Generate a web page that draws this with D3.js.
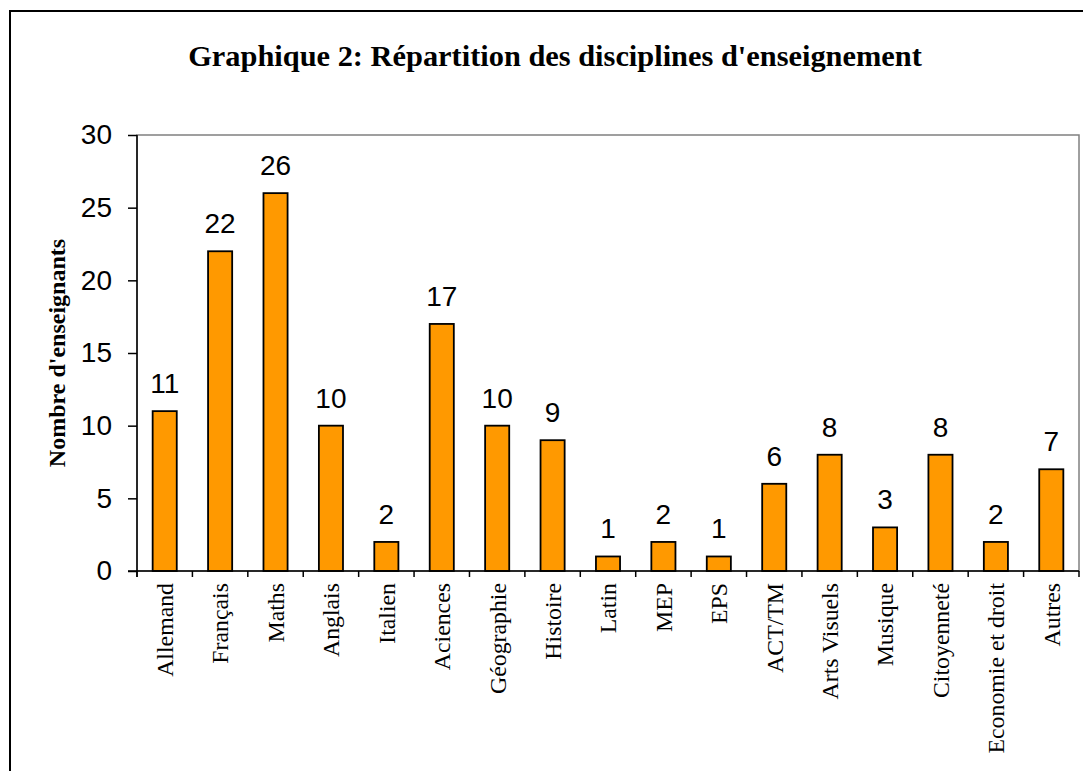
<!DOCTYPE html>
<html>
<head>
<meta charset="utf-8">
<script src="https://cdn.jsdelivr.net/npm/d3@7"></script>
<style>
body { margin: 0; background: #fff; }
</style>
</head>
<body>
<div id="chart"></div>
<script>
// disciplines et nombre d'enseignants
var disciplines = ["Allemand", "Français", "Maths", "Anglais", "Italien", "Aciences", "Géographie", "Histoire",
  "Latin", "MEP", "EPS", "ACT/TM", "Arts Visuels", "Musique", "Citoyenneté", "Economie et droit", "Autres"];
var enseignants = [11, 22, 26, 10, 2, 17, 10, 9, 1, 2, 1, 6, 8, 3, 8, 2, 7];
var yTicks = [0, 5, 10, 15, 20, 25, 30];

var W = 1083, H = 771;
var plot = {left: 137, top: 135, right: 1079, bottom: 571};

var svg = d3.select("#chart").append("svg").attr("width", W).attr("height", H);

// cadre exterieur (sort de l'image a droite et en bas)
svg.append("rect").attr("x", 10).attr("y", 11).attr("width", W + 20).attr("height", H + 20)
  .attr("fill", "none").attr("stroke", "#000").attr("stroke-width", 2);

svg.append("text").attr("x", 555).attr("y", 66).attr("text-anchor", "middle")
  .style("font-family", "'Liberation Serif', 'Times New Roman', serif").style("font-weight", "bold")
  .style("font-size", "30.4px").text("Graphique 2: Répartition des disciplines d'enseignement");

var x = d3.scaleBand().domain(disciplines).range([plot.left, plot.right]).paddingInner(0.565).paddingOuter(0.2825);
var y = d3.scaleLinear().domain([0, 30]).range([plot.bottom, plot.top]);

// bord gris de la zone de tracé
svg.append("rect").attr("x", plot.left).attr("y", plot.top)
  .attr("width", plot.right - plot.left).attr("height", plot.bottom - plot.top)
  .attr("fill", "none").attr("stroke", "#808080").attr("stroke-width", 1.5);

var data = disciplines.map(function(d, i){ return {label: d, value: enseignants[i]}; });

svg.selectAll("rect.bar").data(data).enter().append("rect").attr("class", "bar")
  .attr("x", function(d){ return x(d.label); })
  .attr("y", function(d){ return y(d.value); })
  .attr("width", x.bandwidth())
  .attr("height", function(d){ return y(0) - y(d.value); })
  .attr("fill", "#FF9900").attr("stroke", "#000").attr("stroke-width", 1.8);

svg.selectAll("text.val").data(data).enter().append("text").attr("class", "val")
  .attr("x", function(d){ return x(d.label) + x.bandwidth() / 2; })
  .attr("y", function(d){ return y(d.value) - 18; })
  .attr("text-anchor", "middle")
  .style("font-family", "'Liberation Sans', Arial, sans-serif").style("font-size", "28px")
  .text(function(d){ return d.value; });

// axe Y
var yAxis = svg.append("g").attr("transform", "translate(" + plot.left + ",0)")
  .call(d3.axisLeft(y).tickValues(yTicks).tickSize(9).tickPadding(16));
yAxis.select(".domain").attr("stroke", "#000").attr("stroke-width", 1.5).attr("d", "M0," + plot.top + "V" + (plot.bottom + 6));
yAxis.selectAll(".tick line").attr("stroke", "#000").attr("stroke-width", 1.5);
yAxis.selectAll("text").style("font-family", "'Liberation Sans', Arial, sans-serif").style("font-size", "28px").attr("fill", "#000");

// axe X : graduations entre les categories
var bounds = d3.range(disciplines.length + 1).map(function(i){ return plot.left + i * (plot.right - plot.left) / disciplines.length; });
svg.append("line").attr("x1", plot.left - 9).attr("x2", plot.right).attr("y1", plot.bottom).attr("y2", plot.bottom)
  .attr("stroke", "#000").attr("stroke-width", 1.5);
svg.selectAll("line.xt").data(bounds).enter().append("line").attr("class", "xt")
  .attr("x1", function(d){ return d; }).attr("x2", function(d){ return d; })
  .attr("y1", plot.bottom).attr("y2", plot.bottom + 6)
  .attr("stroke", "#000").attr("stroke-width", 1.5);

svg.selectAll("text.cat").data(disciplines).enter().append("text").attr("class", "cat")
  .attr("transform", function(d){ return "translate(" + (x(d) + x.bandwidth() / 2) + "," + (plot.bottom + 12) + ") rotate(-90)"; })
  .attr("dy", "0.35em").attr("text-anchor", "end")
  .style("font-family", "'Liberation Serif', 'Times New Roman', serif").style("font-size", "23.8px")
  .text(function(d){ return d; });

svg.append("text").attr("transform", "translate(57," + ((plot.top + plot.bottom) / 2) + ") rotate(-90)")
  .attr("dy", "0.35em").attr("text-anchor", "middle")
  .style("font-family", "'Liberation Serif', 'Times New Roman', serif").style("font-weight", "bold")
  .style("font-size", "24px").text("Nombre d'enseignants");
</script>
</body>
</html>
